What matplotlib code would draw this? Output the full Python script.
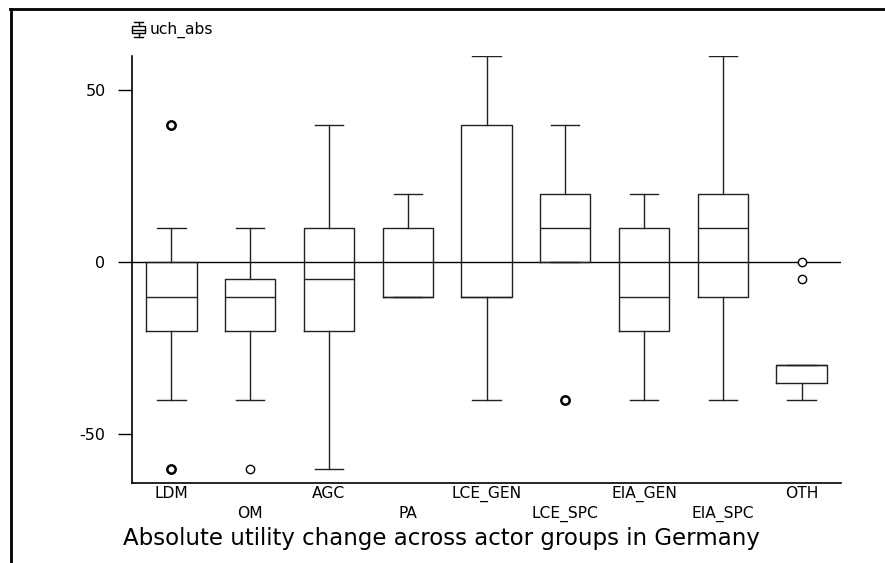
import matplotlib
matplotlib.use("Agg")
import matplotlib.pyplot as plt
from matplotlib.lines import Line2D
from matplotlib.patches import Rectangle

# Absolute utility change by actor group (box statistics)
groups = ["LDM", "OM", "AGC", "PA", "LCE_GEN", "LCE_SPC", "EIA_GEN", "EIA_SPC", "OTH"]
q1 = [-20, -20, -20, -10, -10, 0, -20, -10, -35]
median = [-10, -10, -5, -10, -10, 10, -10, 10, -30]
q3 = [0, -5, 10, 10, 40, 20, 10, 20, -30]
whisker_low = [-40, -40, -60, -10, -40, 0, -40, -40, -40]
whisker_high = [10, 10, 40, 20, 60, 40, 20, 60, -30]
outliers = [[40, 40, -60, -60], [-60], [], [], [], [-40, -40], [], [], [0, -5]]

y_ticks = [-50, 0, 50]
legend_label = "uch_abs"
title = "Absolute utility change across actor groups in Germany"

plt.rcParams["font.family"] = ["DejaVu Sans"]

fig = plt.figure(figsize=(8.85, 5.63), dpi=100)
ax = fig.add_axes([132 / 885, 1 - 483 / 563, (841 - 132) / 885, (483 - 56) / 563])

stats = []
for i, g in enumerate(groups):
    stats.append(dict(label=g, q1=q1[i], med=median[i], q3=q3[i],
                      whislo=whisker_low[i], whishi=whisker_high[i], fliers=[]))

positions = list(range(len(groups)))
lc = "#222222"
ax.bxp(stats, positions=positions, widths=0.64, capwidths=0.36,
       showfliers=False, patch_artist=False,
       boxprops=dict(color=lc, linewidth=1.0),
       medianprops=dict(color=lc, linewidth=1.0),
       whiskerprops=dict(color=lc, linewidth=1.0),
       capprops=dict(color=lc, linewidth=1.0))

# outlying values; repeated values are drawn heavier
for p, vals in zip(positions, outliers):
    for v in sorted(set(vals)):
        n = vals.count(v)
        ax.plot([p], [v], linestyle="none", marker="o", markersize=6,
                markerfacecolor="white", markeredgecolor="black",
                markeredgewidth=1.0 if n == 1 else 1.8, zorder=4)

ax.axhline(0, color="black", linewidth=1.0, zorder=1)

ax.set_xlim(-0.5, len(groups) - 0.5)
ax.set_ylim(-64.2, 60)
ax.spines["top"].set_visible(False)
ax.spines["right"].set_visible(False)
for s in ("left", "bottom"):
    ax.spines[s].set_linewidth(1.2)
    ax.spines[s].set_color("black")

ax.set_yticks(y_ticks)
ax.set_yticklabels([str(t) for t in y_ticks])
ax.tick_params(axis="y", length=10, width=1.0, pad=9, labelsize=11.5)
ax.set_xticks([])

# staggered category labels
for i, g in enumerate(groups):
    yoff = 494 if i % 2 == 0 else 514
    fig.text((132 + (i + 0.5) * (709 / 9)) / 885, 1 - yoff / 563, g,
             ha="center", va="center", fontsize=11.2)

fig.text(441 / 885, 1 - 539 / 563, title, ha="center", va="center", fontsize=16.5)

# legend key: small box-plot glyph and variable name
def fx(x):
    return x / 885
def fy(y):
    return 1 - y / 563
lx0, lx1, lxm = 132, 145, 138.5
fig.add_artist(Rectangle((fx(lx0), fy(33)), fx(lx1 - lx0), 7 / 563,
                         fill=False, edgecolor="black", linewidth=1.0))
fig.add_artist(Line2D([fx(lx0), fx(lx1)], [fy(30), fy(30)], color="black", lw=1.0))
fig.add_artist(Line2D([fx(lxm), fx(lxm)], [fy(22), fy(26)], color="black", lw=1.0))
fig.add_artist(Line2D([fx(lxm), fx(lxm)], [fy(33), fy(37)], color="black", lw=1.0))
fig.add_artist(Line2D([fx(134), fx(143)], [fy(22), fy(22)], color="black", lw=1.0))
fig.add_artist(Line2D([fx(134), fx(143)], [fy(37), fy(37)], color="black", lw=1.0))
fig.text(fx(150), fy(30), legend_label, ha="left", va="center", fontsize=11.2)

# outer frame
fig.add_artist(Line2D([fx(10), fx(885)], [fy(9), fy(9)], color="black", lw=2.0))
fig.add_artist(Line2D([fx(10.5), fx(10.5)], [fy(9), fy(563)], color="black", lw=2.0))

fig.savefig("out.png", dpi=100, facecolor="white")
